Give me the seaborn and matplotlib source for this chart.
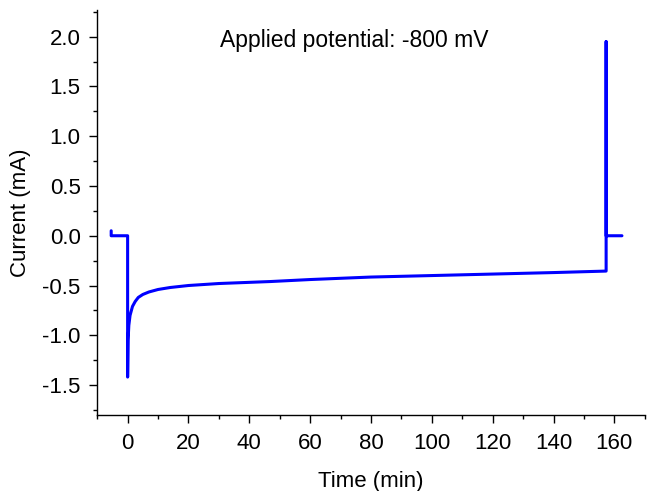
import pandas as pd
import matplotlib
matplotlib.use("Agg")
import matplotlib.pyplot as plt
from matplotlib.ticker import MultipleLocator, FormatStrFormatter
import seaborn as sns

# chronoamperometry trace (time in min, current in mA)
time_min = [-5.4, -5.4, -5.4, 0.0, 0.0, 0.15, 0.4, 0.8, 1.6, 2.5, 3.5, 5, 7, 10,
            14, 20, 30, 47, 60, 80, 100, 120, 140, 157.3, 157.3, 157.3, 162.5]
current_ma = [0.05, 0.0, 0.0, 0.0, -1.42, -1.05, -0.90, -0.80, -0.71, -0.66, -0.62,
              -0.59, -0.565, -0.54, -0.52, -0.50, -0.48, -0.46, -0.44, -0.415, -0.40,
              -0.385, -0.37, -0.355, 1.95, 0.0, 0.0]
annotation = "Applied potential: -800 mV"

df = pd.DataFrame({"Time (min)": time_min, "Current (mA)": current_ma})

sns.set_theme(style="ticks")
plt.rcParams["font.family"] = ["Liberation Sans", "DejaVu Sans"]

fig = plt.figure(figsize=(6.48, 4.91), dpi=100)
ax = fig.add_axes([0.150, 0.155, 0.845, 0.825])

sns.lineplot(data=df, x="Time (min)", y="Current (mA)", sort=False,
             estimator=None, color="#0000ff", linewidth=2.2, ax=ax)

ax.set_xlim(-10, 170)
ax.set_ylim(-1.8, 2.27)
ax.xaxis.set_major_locator(MultipleLocator(20))
ax.xaxis.set_minor_locator(MultipleLocator(10))
ax.yaxis.set_major_locator(MultipleLocator(0.5))
ax.yaxis.set_minor_locator(MultipleLocator(0.25))
ax.yaxis.set_major_formatter(FormatStrFormatter("%.1f"))

ax.tick_params(which="major", length=6, width=1, labelsize=16,
               color="black", labelcolor="black")
ax.tick_params(axis="x", which="major", pad=7)
ax.tick_params(axis="y", which="major", pad=6)
ax.tick_params(which="minor", length=3, width=1, color="black")
for s in ["left", "bottom"]:
    ax.spines[s].set_color("black")
    ax.spines[s].set_linewidth(1)
sns.despine(ax=ax)

ax.set_xlabel("Time (min)", fontsize=16, color="black", labelpad=12)
ax.set_ylabel("Current (mA)", fontsize=16, color="black", labelpad=8)

ax.text(74.5, 1.96, annotation, fontsize=16.5,
        ha="center", va="center", color="black")

fig.savefig("out.png", dpi=100)
